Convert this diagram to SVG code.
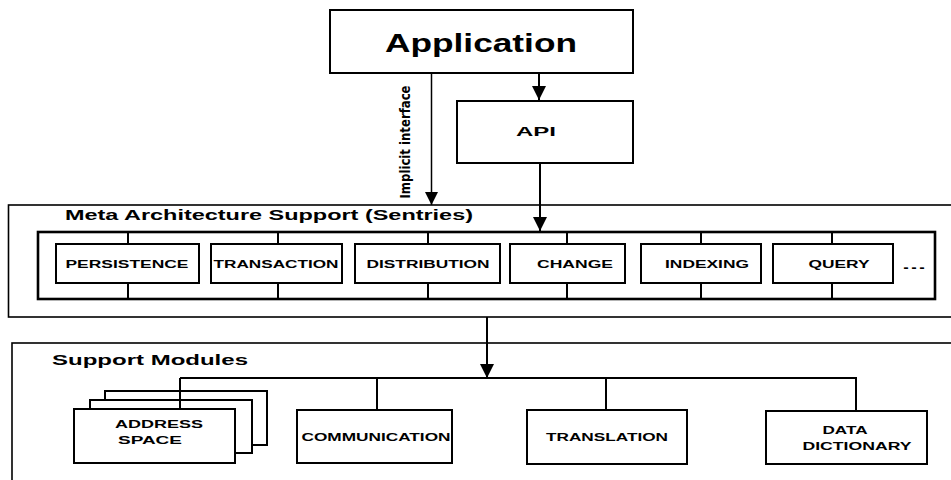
<svg xmlns="http://www.w3.org/2000/svg" width="951" height="480" viewBox="0 0 951 480">
<style>
  .box { fill: #fff; stroke: #000; stroke-width: 2; }
  .frame { fill: none; stroke: #000; stroke-width: 1.6; }
  .bus { fill: none; stroke: #000; stroke-width: 2.6; }
  .wire { fill: none; stroke: #000; stroke-width: 2; }
  .lbl { font-family: "Liberation Sans", Arial, sans-serif; font-weight: bold; font-size: 11.5px; fill: #000; text-anchor: middle; }
  .title { font-family: "Liberation Sans", Arial, sans-serif; font-weight: bold; font-size: 15px; fill: #000; }
  .big { font-family: "Liberation Sans", Arial, sans-serif; font-weight: bold; fill: #000; text-anchor: middle; }
  .side { font-family: "Liberation Sans Narrow", "DejaVu Sans Condensed", "Liberation Sans", sans-serif; font-weight: bold; font-size: 14px; fill: #000; text-anchor: middle; }
</style>
<defs>
  <marker id="arr" viewBox="0 0 10 10" refX="10" refY="5" markerWidth="7" markerHeight="7" orient="auto" markerUnits="strokeWidth">
    <path d="M0,0 L10,5 L0,10 z" fill="#000"/>
  </marker>
  <marker id="arr2" viewBox="0 0 10 10" refX="10" refY="5" markerWidth="9" markerHeight="9" orient="auto" markerUnits="strokeWidth">
    <path d="M0,0 L10,5 L0,10 z" fill="#000"/>
  </marker>
</defs>
<rect width="951" height="480" fill="#fff"/>

<!-- Frames -->
<g id="meta-frame">
  <rect class="frame" x="8.5" y="205" width="960" height="112"/>
  <text class="title" x="65" y="220" textLength="408" lengthAdjust="spacingAndGlyphs">Meta Architecture Support (Sentries)</text>
</g>
<g id="support-frame">
  <rect class="frame" x="12" y="343" width="960" height="160"/>
  <text class="title" x="52" y="365" textLength="196" lengthAdjust="spacingAndGlyphs">Support Modules</text>
</g>

<!-- Connectors -->
<g id="connectors">
  <line class="wire" x1="539" y1="73" x2="539" y2="100" marker-end="url(#arr)"/>
  <line x1="431.5" y1="73" x2="431.5" y2="205" stroke="#000" stroke-width="1.5" marker-end="url(#arr2)"/>
  <line class="wire" x1="540" y1="163" x2="540" y2="231" marker-end="url(#arr)"/>
  <!-- sentry bus -->
  <rect class="bus" x="38" y="232" width="897" height="67"/>
  <line class="wire" x1="128" y1="232" x2="128" y2="244"/><line class="wire" x1="128" y1="283" x2="128" y2="299"/>
  <line class="wire" x1="278" y1="232" x2="278" y2="244"/><line class="wire" x1="278" y1="283" x2="278" y2="299"/>
  <line class="wire" x1="428" y1="232" x2="428" y2="244"/><line class="wire" x1="428" y1="283" x2="428" y2="299"/>
  <line class="wire" x1="567" y1="232" x2="567" y2="244"/><line class="wire" x1="567" y1="283" x2="567" y2="299"/>
  <line class="wire" x1="701" y1="232" x2="701" y2="244"/><line class="wire" x1="701" y1="283" x2="701" y2="299"/>
  <line class="wire" x1="832" y1="232" x2="832" y2="244"/><line class="wire" x1="832" y1="283" x2="832" y2="299"/>
  <!-- support bus -->
  <line class="wire" x1="487" y1="317" x2="487" y2="378" marker-end="url(#arr)"/>
  <line class="wire" x1="180" y1="378" x2="857" y2="378"/>
  <line class="wire" x1="377" y1="378" x2="377" y2="410"/>
  <line class="wire" x1="606" y1="378" x2="606" y2="410"/>
  <line class="wire" x1="856" y1="378" x2="856" y2="411"/>
</g>

<g id="application">
  <rect class="box" x="330" y="10" width="303" height="63"/>
  <text class="big" x="481" y="52" font-size="25" textLength="192" lengthAdjust="spacingAndGlyphs">Application</text>
</g>
<g id="api">
  <rect class="box" x="457" y="101" width="176" height="62"/>
  <text class="big" x="536" y="136" font-size="12.5" textLength="40" lengthAdjust="spacingAndGlyphs">API</text>
</g>
<g id="implicit-interface-label">
  <text class="side" transform="translate(410,142) rotate(-90)" textLength="113" lengthAdjust="spacingAndGlyphs">Implicit interface</text>
</g>

<g id="persistence">
  <rect class="box" x="56" y="244" width="143" height="39"/>
  <text class="lbl" x="127" y="268" textLength="123" lengthAdjust="spacingAndGlyphs">PERSISTENCE</text>
</g>
<g id="transaction">
  <rect class="box" x="211" y="244" width="131" height="39"/>
  <text class="lbl" x="276" y="268" textLength="125" lengthAdjust="spacingAndGlyphs">TRANSACTION</text>
</g>
<g id="distribution">
  <rect class="box" x="355" y="244" width="145" height="39"/>
  <text class="lbl" x="428" y="268" textLength="123" lengthAdjust="spacingAndGlyphs">DISTRIBUTION</text>
</g>
<g id="change">
  <rect class="box" x="510" y="244" width="115" height="39"/>
  <text class="lbl" x="575" y="268" textLength="76" lengthAdjust="spacingAndGlyphs">CHANGE</text>
</g>
<g id="indexing">
  <rect class="box" x="641" y="244" width="120" height="39"/>
  <text class="lbl" x="707" y="268" textLength="84" lengthAdjust="spacingAndGlyphs">INDEXING</text>
</g>
<g id="query">
  <rect class="box" x="773" y="244" width="120" height="39"/>
  <text class="lbl" x="839" y="268" textLength="61" lengthAdjust="spacingAndGlyphs">QUERY</text>
</g>
<g id="more">
  <text class="lbl" x="914" y="269" font-size="16" textLength="24" lengthAdjust="spacingAndGlyphs">...</text>
</g>

<g id="address-space">
  <rect class="box" x="105" y="391" width="162" height="54"/>
  <rect class="box" x="90" y="400" width="162" height="53"/>
  <line class="wire" x1="180" y1="378" x2="180" y2="409"/>
  <rect class="box" x="74" y="409" width="161" height="54"/>
  <text class="lbl" x="159" y="428" textLength="88" lengthAdjust="spacingAndGlyphs">ADDRESS</text>
  <text class="lbl" x="150" y="444" textLength="64" lengthAdjust="spacingAndGlyphs">SPACE</text>
</g>
<g id="communication">
  <rect class="box" x="297" y="410" width="155" height="53"/>
  <text class="lbl" x="376" y="441" textLength="149" lengthAdjust="spacingAndGlyphs">COMMUNICATION</text>
</g>
<g id="translation">
  <rect class="box" x="527" y="410" width="160" height="54"/>
  <text class="lbl" x="607" y="441" textLength="122" lengthAdjust="spacingAndGlyphs">TRANSLATION</text>
</g>
<g id="data-dictionary">
  <rect class="box" x="766" y="411" width="161" height="53"/>
  <text class="lbl" x="845" y="434" textLength="45" lengthAdjust="spacingAndGlyphs">DATA</text>
  <text class="lbl" x="857" y="450" textLength="109" lengthAdjust="spacingAndGlyphs">DICTIONARY</text>
</g>
</svg>
